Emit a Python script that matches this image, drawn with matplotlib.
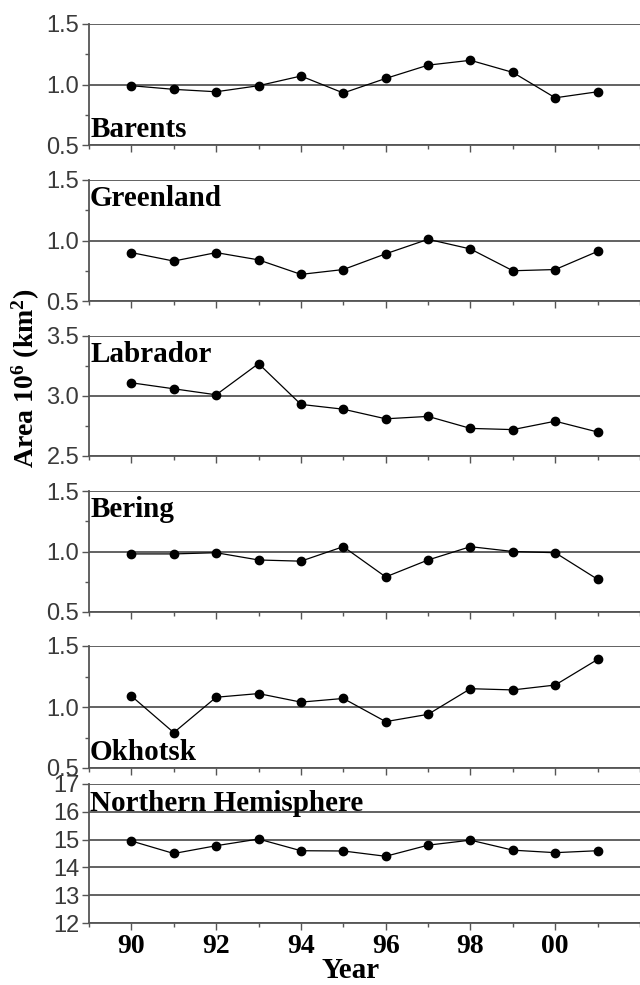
import matplotlib
matplotlib.use('Agg')
import matplotlib.pyplot as plt
from matplotlib.ticker import MultipleLocator

plt.rcParams['mathtext.fontset'] = 'custom'
plt.rcParams['mathtext.rm'] = 'Liberation Serif:bold'
plt.rcParams['mathtext.it'] = 'Liberation Serif:italic:bold'
plt.rcParams['mathtext.bf'] = 'Liberation Serif:bold'

# Winter sea ice area by region, 1990-2001 (10^6 km^2)
years = [90, 91, 92, 93, 94, 95, 96, 97, 98, 99, 100, 101]
year_labels = ['90', '92', '94', '96', '98', '00']

barents = [0.99, 0.96, 0.94, 0.99, 1.07, 0.93, 1.05, 1.16, 1.20, 1.10, 0.89, 0.94]
greenland = [0.90, 0.83, 0.90, 0.84, 0.72, 0.76, 0.89, 1.01, 0.93, 0.75, 0.76, 0.91]
labrador = [3.11, 3.06, 3.01, 3.27, 2.93, 2.89, 2.81, 2.83, 2.73, 2.72, 2.79, 2.70]
bering = [0.98, 0.98, 0.99, 0.93, 0.92, 1.04, 0.79, 0.93, 1.04, 1.00, 0.99, 0.77]
okhotsk = [1.09, 0.79, 1.08, 1.11, 1.04, 1.07, 0.88, 0.94, 1.15, 1.14, 1.18, 1.39]
north_hemi = [14.95, 14.50, 14.78, 15.02, 14.60, 14.59, 14.40, 14.80, 14.98, 14.62, 14.53, 14.60]

panels = [
    ('Barents', barents, (0.5, 1.5), 0.5, 'bottom'),
    ('Greenland', greenland, (0.5, 1.5), 0.5, 'top'),
    ('Labrador', labrador, (2.5, 3.5), 0.5, 'top'),
    ('Bering', bering, (0.5, 1.5), 0.5, 'top'),
    ('Okhotsk', okhotsk, (0.5, 1.5), 0.5, 'bottom'),
    ('Northern Hemisphere', north_hemi, (12, 17), 1, 'top'),
]

# panel extents in pixels (top, bottom) on a 640x985 canvas
W, H = 640, 985
extents = [(24, 145), (180, 301), (336, 456), (491, 612), (646, 768), (784, 923)]
left_px, right_px = 89, 640

grid_col = '#555555'
tick_col = '#3a3a3a'

fig = plt.figure(figsize=(W / 100, H / 100), dpi=100)

for (name, vals, ylim, step, where), (top, bot) in zip(panels, extents):
    ax = fig.add_axes([left_px / W, 1 - bot / H, (right_px - left_px) / W, (bot - top) / H])
    ax.plot(years, vals, color='black', lw=0.9, marker='o', ms=6, zorder=3, clip_on=False)
    ax.set_xlim(89, 102)
    ax.set_ylim(*ylim)

    ax.yaxis.set_major_locator(MultipleLocator(step))
    if step == 0.5:
        ax.yaxis.set_minor_locator(MultipleLocator(0.25))
    ax.xaxis.set_major_locator(MultipleLocator(2))
    ax.xaxis.set_minor_locator(MultipleLocator(1))
    ax.set_xticks([90, 92, 94, 96, 98, 100])
    ax.grid(True, axis='y', which='major', color=grid_col, lw=1.3, zorder=1)

    for s in ['top', 'right']:
        ax.spines[s].set_visible(False)
    for s in ['left', 'bottom']:
        ax.spines[s].set_color(grid_col)
        ax.spines[s].set_linewidth(1.3)

    ax.tick_params(axis='y', which='major', length=5, width=1, color=grid_col,
                   labelsize=17, labelcolor=tick_col, pad=2)
    ax.tick_params(axis='y', which='minor', length=3, width=1, color=grid_col)
    ax.tick_params(axis='x', which='major', length=5, width=1, color=grid_col)
    ax.tick_params(axis='x', which='minor', length=3, width=1, color=grid_col)
    if step == 0.5:
        ax.yaxis.set_major_formatter(plt.FormatStrFormatter('%.1f'))
    for lab in ax.get_yticklabels():
        lab.set_family('Liberation Sans')

    if name == 'Northern Hemisphere':
        ax.set_xticklabels(year_labels, family='Liberation Serif', weight='bold', fontsize=20)
        ax.tick_params(axis='x', pad=3)
    else:
        ax.set_xticklabels([])

    if where == 'top':
        ax.text(0.002, 0.96, name, transform=ax.transAxes, ha='left', va='top',
                family='Liberation Serif', weight='bold', fontsize=21)
    else:
        ax.text(0.002, 0.02, name, transform=ax.transAxes, ha='left', va='bottom',
                family='Liberation Serif', weight='bold', fontsize=21)

fig.text(26 / W, 1 - 378 / H, 'Area 10$^6$ (km$^2$)', rotation=90, ha='center', va='center',
         family='Liberation Serif', weight='bold', fontsize=20)
fig.text(351 / W, 1 - 970 / H, 'Year', ha='center', va='center',
         family='Liberation Serif', weight='bold', fontsize=21)

fig.savefig('out.png', dpi=100, facecolor='white')
